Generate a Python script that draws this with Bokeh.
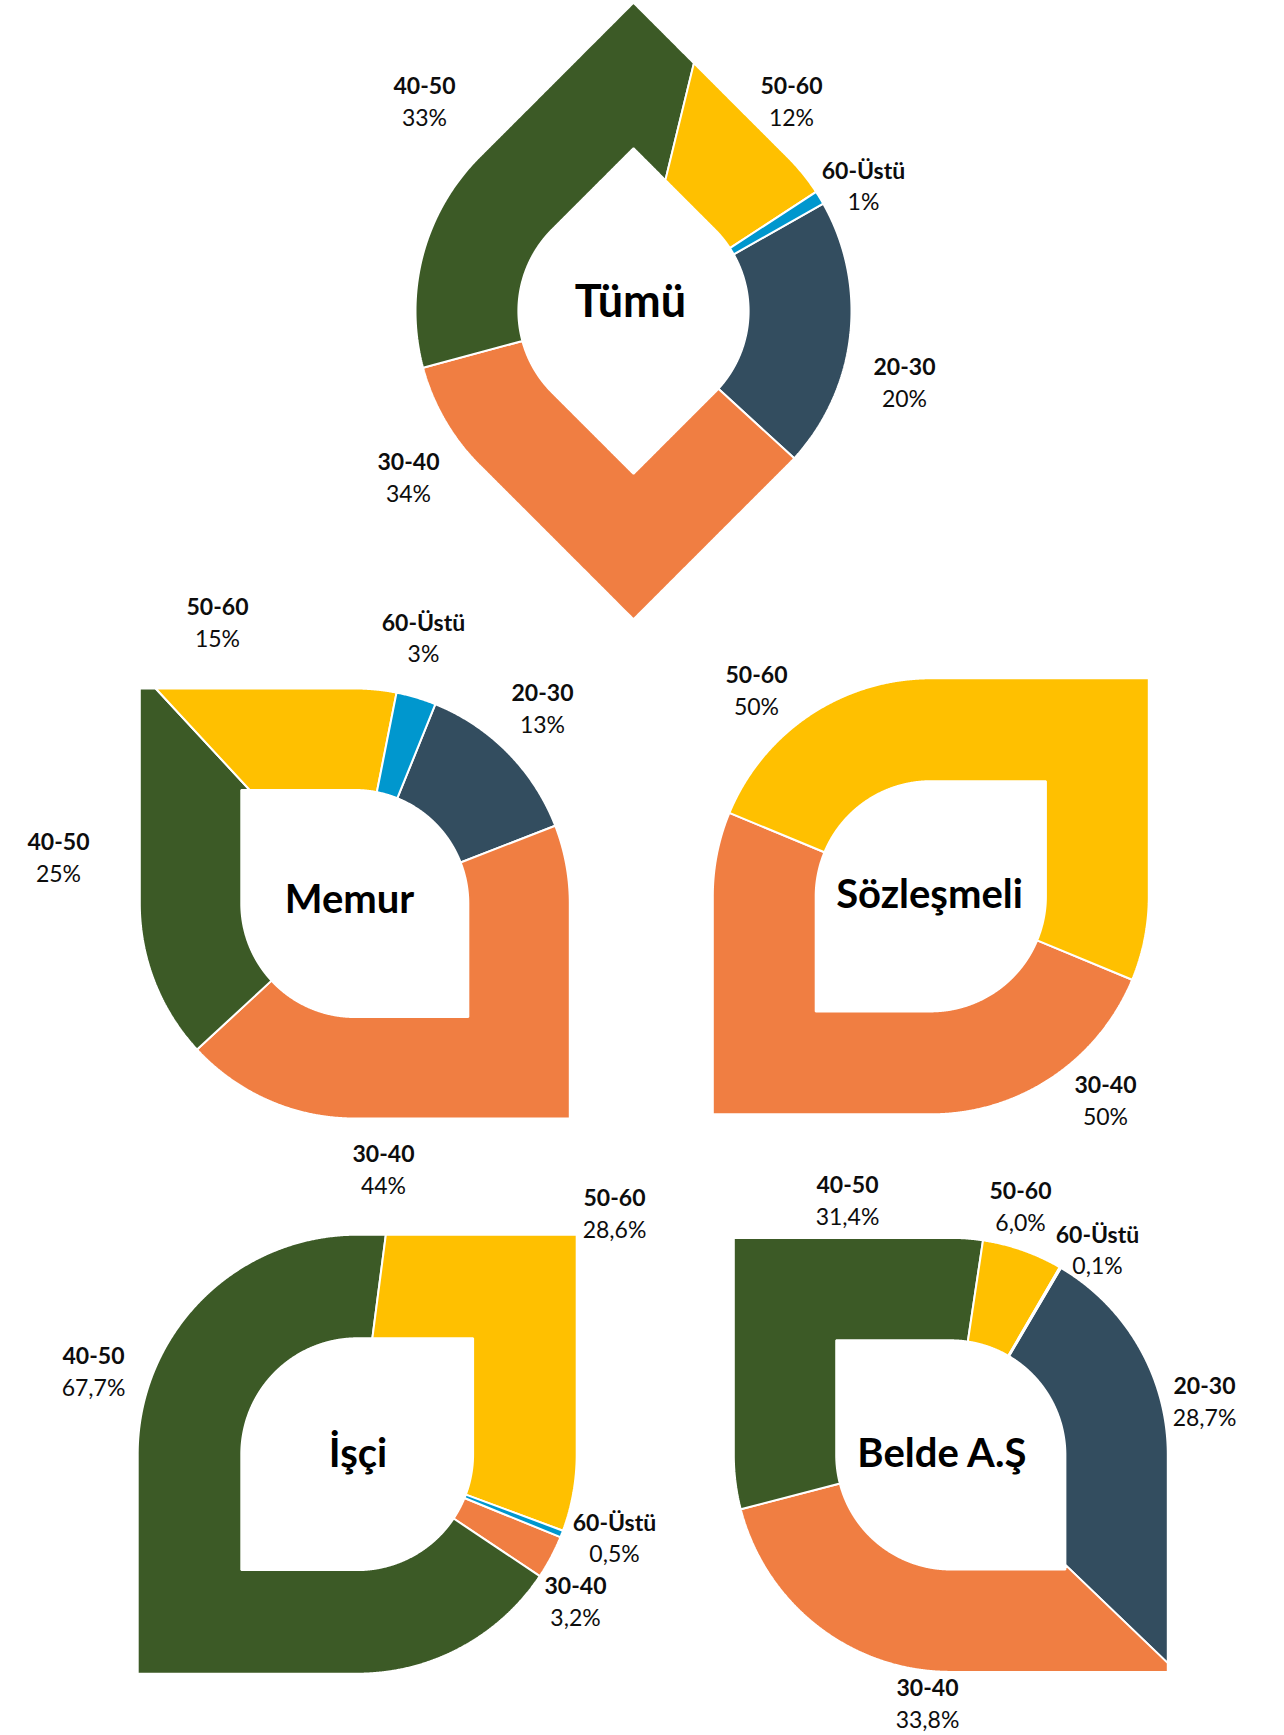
import numpy as np
from bokeh.plotting import figure
from bokeh.models import Range1d, ColumnDataSource
from bokeh.embed import file_html
from bokeh.resources import INLINE
from bokeh.core.properties import value

# ---------------- data ----------------
categories = ["20-30", "30-40", "40-50", "50-60", "60-Üstü"]
tumu = [20, 34, 33, 12, 1]
memur = [13, 44, 25, 15, 3]
sozlesmeli = [0, 50, 0, 50, 0]
isci = [0, 3.2, 67.7, 28.6, 0.5]
belde = [28.7, 33.8, 31.4, 6.0, 0.1]
titles = ["Tümü", "Memur", "Sözleşmeli", "İşçi", "Belde A.Ş"]
decimals = [0, 0, 0, 1, 1]
series = [tumu, memur, sozlesmeli, isci, belde]

# ---------------- styles / layout ----------------
colors = ["#334D5F", "#F07E42", "#3C5A26", "#FFC000", "#0097CE"]
FONT = "Lato"
HOLE = 0.528
W, H = 1284, 1735

layout = [
    dict(cx=633, cy=310.5, R=218, rot=45, sharp=(0, 2), start=29.5, title=(630, 299), tsize="45px",
         labels={"40-50": (424, 85), "50-60": (791, 85), "60-Üstü": (863, 169),
                 "20-30": (904, 366), "30-40": (408, 461)}),
    dict(cx=354.3, cy=903, R=215, rot=0, sharp=(1, 3), start=68, title=(349, 897), tsize="40px",
         labels={"50-60": (217, 606), "60-Üstü": (423, 621), "20-30": (542, 692),
                 "40-50": (58, 841), "30-40": (383, 1153)}),
    dict(cx=930.3, cy=895.8, R=218, rot=0, sharp=(0, 2), start=-22.5, title=(929, 892), tsize="40px",
         labels={"50-60": (756, 674), "30-40": (1105, 1084)}),
    dict(cx=356.7, cy=1453.7, R=219.5, rot=0, sharp=(0, 2), start=-22.2, title=(357.5, 1451), tsize="40px",
         labels={"50-60": (614, 1197), "40-50": (93, 1355), "60-Üstü": (614, 1521),
                 "30-40": (575, 1585)}),
    dict(cx=950.3, cy=1454.4, R=217, rot=0, sharp=(1, 3), start=59.5, title=(942, 1451), tsize="40px",
         labels={"40-50": (847, 1184), "50-60": (1020, 1190), "60-Üstü": (1097, 1233),
                 "20-30": (1204, 1385), "30-40": (927, 1687)}),
]


def shape_r(theta_deg, R, rot, sharp):
    phi = np.mod(theta_deg - rot, 360.0)
    q = (np.floor(phi / 90.0).astype(int)) % 4
    ph = np.radians(phi)
    sq = R / np.maximum(np.abs(np.cos(ph)), np.abs(np.sin(ph)))
    return np.where(np.isin(q, sharp), sq, R)


def slice_poly(cx, cy, R, a0, a1, rot, sharp):
    n = max(int(abs(a0 - a1) / 0.25), 2)
    ang = np.linspace(a1, a0, n + 1)
    k_lo = np.ceil((a1 - rot) / 45.0)
    k_hi = np.floor((a0 - rot) / 45.0)
    specials = rot + 45.0 * np.arange(k_lo, k_hi + 1)
    ang = np.unique(np.round(np.concatenate([ang, specials]), 6))[::-1]
    ro = shape_r(ang, R, rot, sharp)
    ri = shape_r(ang, R * HOLE, rot, sharp)
    t = np.radians(ang)
    xo = cx + ro * np.cos(t)
    yo = cy - ro * np.sin(t)
    xi = (cx + ri * np.cos(t))[::-1]
    yi = (cy - ri * np.sin(t))[::-1]
    return list(np.concatenate([xo, xi])), list(np.concatenate([yo, yi]))


xs, ys, fills = [], [], []
lab_x, lab_y, lab_cat, lab_pct_y, lab_pct = [], [], [], [], []
tt_x, tt_y, tt_size = [], [], []

for vals, lay, dec in zip(series, layout, decimals):
    total = float(sum(vals))
    a = lay["start"]
    for cat, v, col in zip(categories, vals, colors):
        if v <= 0:
            continue
        span = 360.0 * v / total
        px, py = slice_poly(lay["cx"], lay["cy"], lay["R"], a, a - span, lay["rot"], lay["sharp"])
        xs.append(px)
        ys.append(py)
        fills.append(col)
        a -= span
        lx, ly = lay["labels"][cat]
        lab_x.append(lx)
        lab_y.append(ly)
        lab_cat.append(cat)
        lab_pct_y.append(ly + 31)
        lab_pct.append((f"{v:.{dec}f}%").replace(".", ","))
    tt_x.append(lay["title"][0])
    tt_y.append(lay["title"][1])
    tt_size.append(lay["tsize"])

p = figure(width=W, height=H, x_range=Range1d(0, W), y_range=Range1d(H, 0),
           output_backend="svg", toolbar_location=None, min_border=0,
           x_axis_location=None, y_axis_location=None)
p.grid.visible = False
p.outline_line_color = None
p.background_fill_color = "white"
p.border_fill_color = "white"

p.patches(xs="xs", ys="ys", fill_color="fill", line_color="white", line_width=2,
          source=ColumnDataSource(dict(xs=xs, ys=ys, fill=fills)))

p.text(x="x", y="y", text="t", source=ColumnDataSource(dict(x=lab_x, y=lab_y, t=lab_cat)),
       text_font=value(FONT), text_font_style="bold", text_font_size="23px",
       text_align="center", text_baseline="middle", text_color="#0d0d0d")
p.text(x="x", y="y", text="t", source=ColumnDataSource(dict(x=lab_x, y=lab_pct_y, t=lab_pct)),
       text_font=value(FONT), text_font_style="normal", text_font_size="23px",
       text_align="center", text_baseline="middle", text_color="#0d0d0d")
p.text(x="x", y="y", text="t",
       source=ColumnDataSource(dict(x=tt_x, y=tt_y, t=titles, s=tt_size)),
       text_font=value(FONT), text_font_style="bold", text_font_size="s",
       text_align="center", text_baseline="middle", text_color="#000000")

open("out.html", "w").write(file_html(p, INLINE))
